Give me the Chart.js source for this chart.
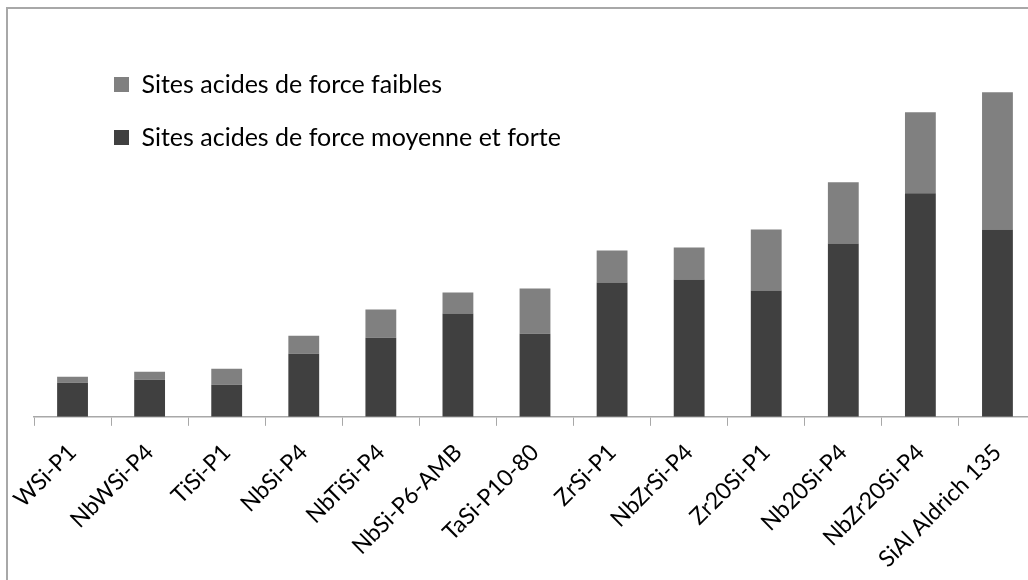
<!DOCTYPE html>
<html>
<head>
<meta charset="utf-8">
<script src="https://cdn.jsdelivr.net/npm/chart.js@4"></script>
<style>
  html, body { margin: 0; padding: 0; background: #fff; overflow: hidden; }
  #frame { position: absolute; left: 6px; top: 7px; width: 1100px; height: 700px; border: 2px solid #a8a8a8; }
  #myChart { position: absolute; left: 0; top: 0; }
</style>
</head>
<body>
<div id="frame"></div>
<canvas id="myChart" width="1044" height="592"></canvas>
<script>
let categories = ['WSi-P1', 'NbWSi-P4', 'TiSi-P1', 'NbSi-P4', 'NbTiSi-P4', 'NbSi-P6-AMB',
  'TaSi-P10-80', 'ZrSi-P1', 'NbZrSi-P4', 'Zr20Si-P1', 'Nb20Si-P4', 'NbZr20Si-P4', 'SiAl Aldrich 135'];

// moyenne + forte (bas de pile)
let fortes = [34, 37, 32, 63, 79, 103, 83, 134, 137, 126, 173, 223, 187];
// faibles (haut de pile)
let faibles = [6, 8, 16, 18, 28, 21, 45, 32, 32, 61, 61, 81, 137];

Chart.defaults.font.family = 'Lato';
Chart.defaults.color = '#000';

// nudge the legend inside the plot area
const legendShift = {
  id: 'legendShift',
  afterLayout(chart) {
    chart.legend.left = chart.chartArea.left + 52;
    chart.legend.top = chart.chartArea.top + 28;
  }
};

let ctx = document.getElementById('myChart').getContext('2d');

let acidChart = new Chart(ctx, {
  type: 'bar',
  data: {
    labels: categories,
    datasets: [{
      label: 'Sites acides de force moyenne et forte',
      data: fortes,
      backgroundColor: '#404040',
      borderWidth: 0
    }, {
      label: 'Sites acides de force faibles',
      data: faibles,
      backgroundColor: '#808080',
      borderWidth: 0
    }]
  },
  options: {
    responsive: false,
    animation: false,
    layout: {
      padding: { left: 34, right: 8, top: 16, bottom: 6 }
    },
    datasets: {
      bar: { barPercentage: 0.4, categoryPercentage: 1 }
    },
    scales: {
      x: {
        stacked: true,
        // first label may hang past the left edge, like the original
        afterFit(scale) { scale.paddingLeft = 0; },
        grid: { drawOnChartArea: false, drawTicks: true, tickLength: 9, color: '#a8a8a8' },
        border: { color: '#a8a8a8', width: 1.5 },
        ticks: { minRotation: 45, maxRotation: 45, font: { size: 23 }, color: '#000', padding: 13 }
      },
      y: {
        stacked: true,
        display: false,
        min: 0,
        max: 400
      }
    },
    plugins: {
      legend: {
        position: 'chartArea',
        align: 'start',
        reverse: true,
        labels: {
          boxWidth: 15,
          boxHeight: 15,
          padding: 28,
          font: { size: 25 },
          color: '#000'
        }
      },
      tooltip: { enabled: false }
    }
  },
  plugins: [legendShift]
});
</script>
</body>
</html>
